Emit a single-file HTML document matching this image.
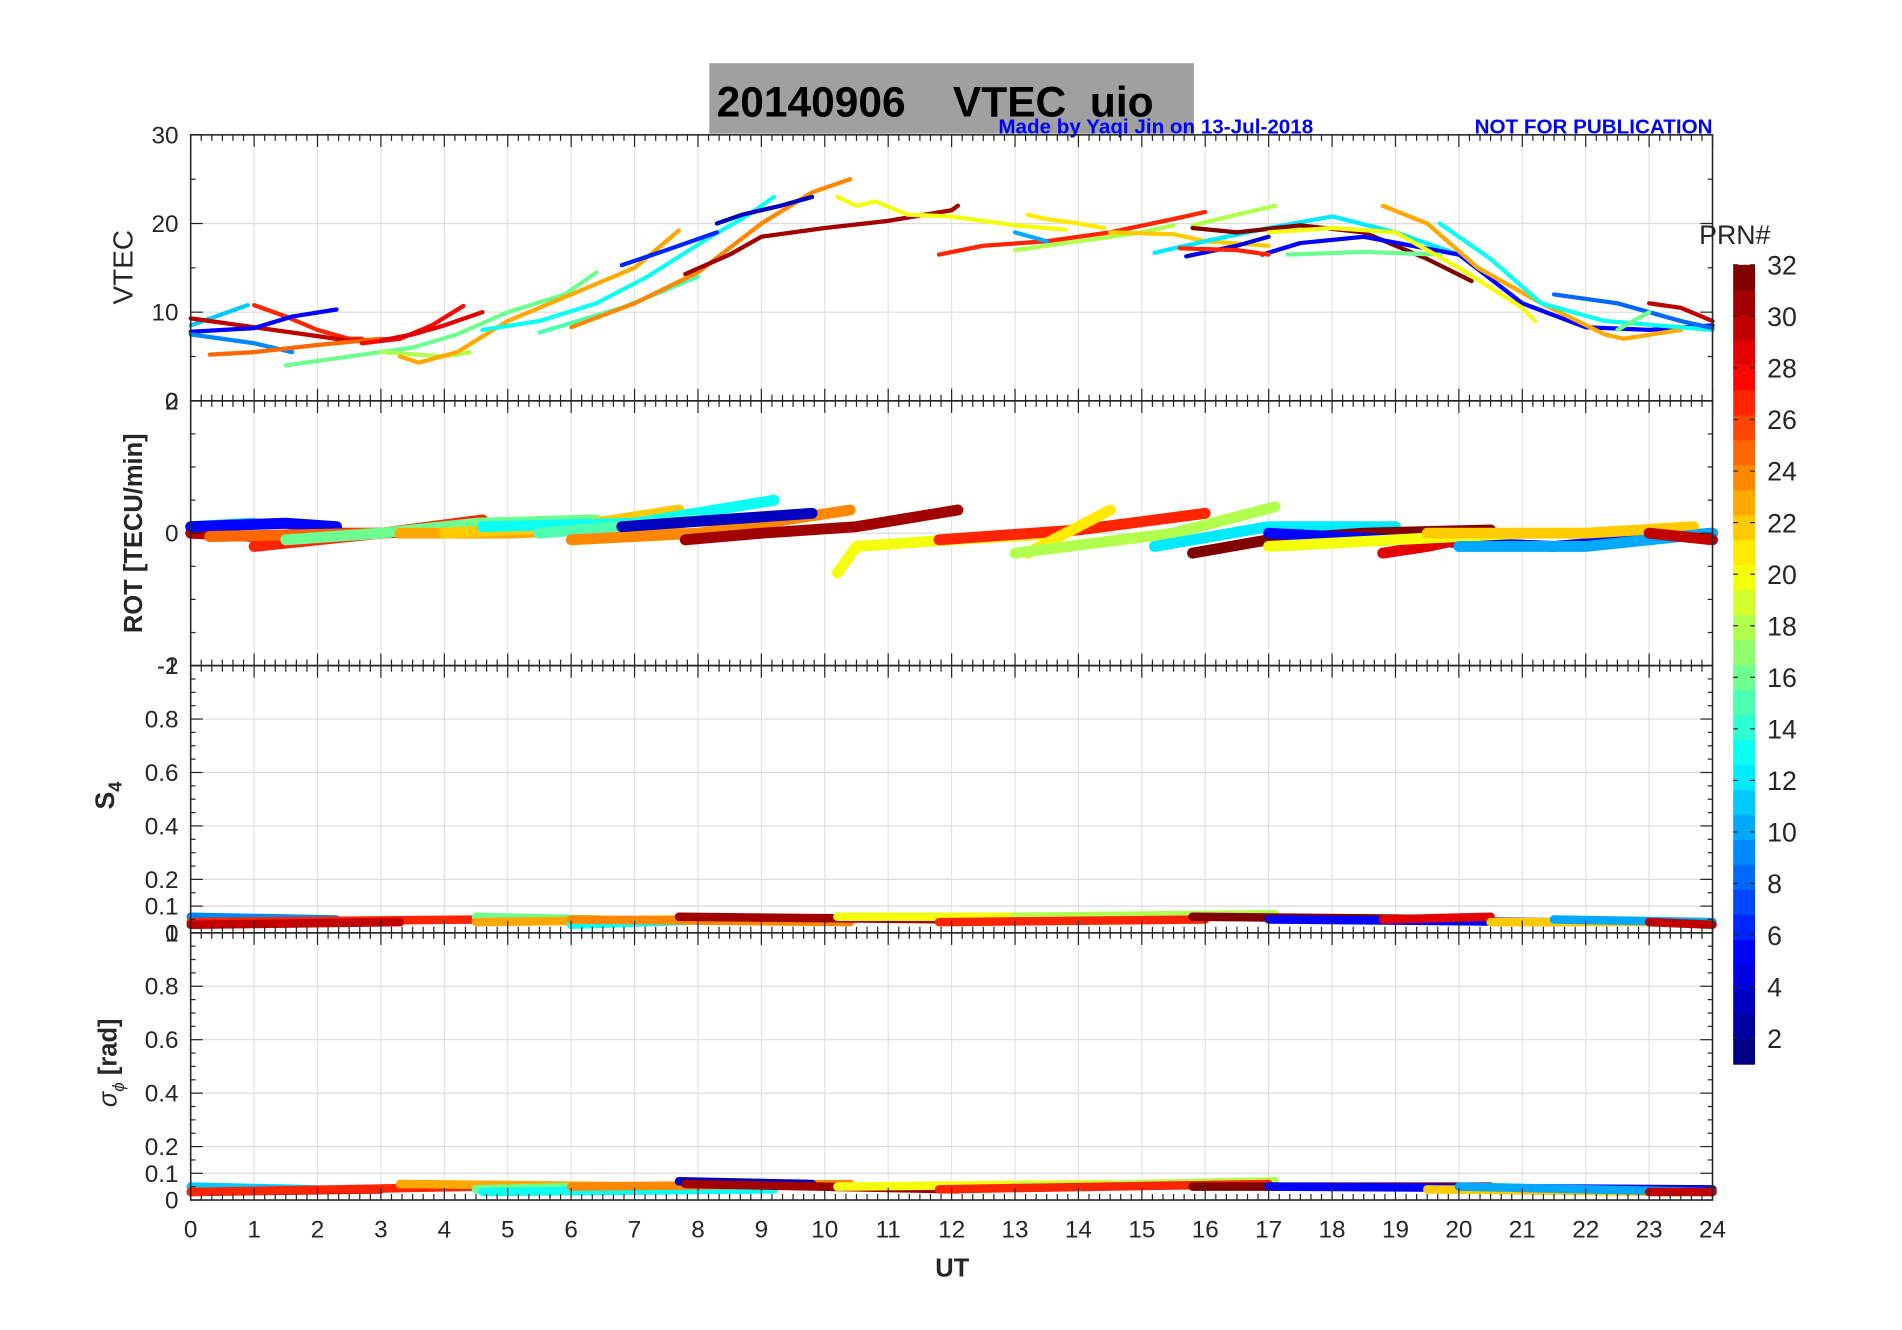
<!DOCTYPE html>
<html><head><meta charset="utf-8">
<style>
html,body{margin:0;padding:0;background:#fff;}
svg{display:block;}
text{font-family:"Liberation Sans",sans-serif;}
</style></head>
<body>
<svg id="fig" width="1902" height="1330" viewBox="0 0 1566 1095" xmlns="http://www.w3.org/2000/svg">
<rect width="1566" height="1095" fill="#fff"/>
<rect x="584" y="52" width="399" height="58" fill="#a0a0a0"/>
<text x="590" y="96" font-size="35" font-weight="bold" fill="#000" xml:space="preserve">20140906    VTEC  uio</text>
<text x="822" y="110" font-size="17" font-weight="bold" fill="#0000ff">Made by Yaqi Jin on 13-Jul-2018</text>
<text x="1410" y="110" font-size="17" font-weight="bold" fill="#0000ff" text-anchor="end">NOT FOR PUBLICATION</text>
<g id="grids"></g>
<g id="series"></g>
<g id="axes"></g>
<g id="cbar"></g>
</svg>
<script>
// ---------- data ----------
const hourTicks = [0,1,2,3,4,5,6,7,8,9,10,11,12,13,14,15,16,17,18,19,20,21,22,23,24];
const cbarTicks = [2,4,6,8,10,12,14,16,18,20,22,24,26,28,30,32];
const vtecTicks = [0,10,20,30];
const rotTicks = [-2,0,2];
const s4Ticks = [0,0.1,0.2,0.4,0.6,0.8,1];

const vtecPrn = [11,27,30,5,9,25,16,28,29,18,23,13,15,24,6,3,31,20,27,21,10,18,18,22,12,32,4,5,16,27,20,23,13,8,30,16];
const vtecT = [
 [0,0.9],[1.0,1.5,2.0,2.5,2.7],[0,1,2,2.5,3.3],[0,1,1.6,2.3],[0,1,1.6],[0.3,1,2,3],
 [1.5,2.5,3.5,4.2,5,5.9,6.4],[2.7,3.3,3.8,4.3],[3.0,3.5,4.0,4.6],[3.0,4.0,4.4],
 [3.3,3.6,4.2,5,6,7,7.7],[4.6,5.5,6.4,7.2,8.2,8.8,9.2],[5.5,6.8,8],[6,7,8,9,9.8,10.4],
 [6.8,7.5,8.3],[8.3,8.7,9.3,9.8],[7.8,8.5,9,10,11,12,12.1],[10.2,10.5,10.8,11.3,12,13,13.8],
 [11.8,12.5,13.5,14.5,15.5,16],[13.2,13.5,14,14.4],[13,13.5],[13,14,15,15.5],[15.8,16.5,17.1],
 [14.5,15.5,16,17],[15.2,16,17,18,19,20],[15.8,16.5,17.5,18.5,19.5,20.2],[15.7,16.5,17],
 [16.9,17.5,18.5,20,21,22,23,24],[17.3,18.5,19.7],[15.6,16.5,17],[17,18,19,20,21,21.2],
 [18.8,19.5,20.3,21.3,22.3,22.6,23.5],[19.7,20.5,21.3,22.3,24],[21.5,22.5,23.5,24],[23,23.5,24],[22.5,23]
];
const vtecV = [
 [8.5,10.8],[10.8,9.5,8,7,7],[9.3,8.3,7.3,6.8,7],[7.8,8.2,9.5,10.3],[7.5,6.5,5.5],[5.2,5.5,6.3,7],
 [4,5,6,7.5,10,12,14.5],[6.5,7,8.5,10.7],[6.8,7.5,8.5,10],[5.5,5,5.5],
 [5,4.3,5.5,9,12,15,19.2],[8,9,11,14,18.5,21,23],[7.7,10.5,14],[8.3,11,14.5,20,23.5,25],
 [15.3,17,19],[20,21,22,23],[14.3,16.5,18.5,19.5,20.3,21.5,22],[23,22,22.5,21,20.8,19.8,19.3],
 [16.5,17.5,18,19,20.5,21.3],[21,20.5,20,19.5],[19,18],[17,18,19,19.8],[19.8,21,22],
 [19,18.8,18,17.5],[16.7,18,19.5,20.8,19,16.5],[19.5,19,19.8,19,16,13.5],[16.3,17.5,18.5],
 [16.5,17.8,18.5,16.5,11,8.3,8,8.5],[16.5,16.8,16.5],[17.2,17,16.5],[19,19.5,19,15,10.5,9],
 [22,20,15,11,7.5,7,8],[20,16,11,9,8],[12,11,9,8.2],[11,10.5,9],[8,10]
];

const rotPrn = [11,30,27,5,25,16,23,22,13,15,24,3,31,20,27,21,18,12,32,5,29,20,22,10,30];
const rotT = [
 [0,1],[0,1,2,3,4],[1,2,3,4.6],[0,1.5,2.3],[0.3,3],[1.5,3,4.5,6.4],[3.3,5,7.7],[4,6,7.7],
 [4.6,7,9.2],[5.5,8],[6,8,10.4],[6.8,8.3,9.8],[7.8,9,10.5,12.1],[10.2,10.5,12,13.8],
 [11.8,14,16],[13.2,14.5],[13,15.5,17.1],[15.2,17,19],[15.8,17,18.5,20.5],[17,19,21.5,24],
 [18.8,19.5,20.5],[17,19,21],[19.5,22,23.7],[20,22,24],[23,24]
];
const rotV = [
 [0.1,0.15],[0,-0.05,0,0,0.05],[-0.2,-0.1,0,0.2],[0.1,0.15,0.1],[-0.05,0],[-0.1,0,0.15,0.2],
 [0,0,0.1],[0,0.1,0.35],[0.1,0.15,0.5],[0,0.2],[-0.1,0,0.35],[0.1,0.2,0.3],[-0.1,0,0.1,0.35],
 [-0.6,-0.2,-0.1,0],[-0.1,0.05,0.3],[-0.3,0.35],[-0.3,0,0.4],[-0.2,0.1,0.1],[-0.3,-0.1,0,0.05],
 [0,-0.1,-0.2,0],[-0.3,-0.2,0],[-0.2,-0.1,0],[0,0,0.1],[-0.2,-0.2,0],[0,-0.1]
];

const s4Prn = [9,27,30,16,23,13,24,31,20,18,27,32,5,29,22,10,30];
const s4T = [[0,2.3],[0,4.6],[0,3.3],[4.5,6.4],[4.5,7.7],[6,8.5],[6,10.4],[7.7,12.1],[10.2,14.5],[13,17.1],[11.8,16],[15.8,20.5],[17,21.5],[18.8,20.5],[20.5,23.5],[21.5,24],[23,24]];
const s4V = [[0.06,0.05],[0.04,0.05],[0.03,0.04],[0.06,0.05],[0.04,0.05],[0.03,0.05],[0.05,0.04],[0.06,0.05],[0.06,0.06],[0.06,0.07],[0.04,0.05],[0.06,0.05],[0.05,0.04],[0.05,0.06],[0.04,0.04],[0.05,0.04],[0.04,0.03]];

const sigPrn = [11,30,27,23,16,13,24,3,31,20,18,27,32,5,22,10,30];
const sigT = [[0,2],[0,3],[0,4.6],[3.3,7.7],[4.5,6.4],[4.6,9.2],[6,10.4],[7.7,9.8],[7.8,12.1],[10.2,14.5],[13,17.1],[11.8,17],[15.8,20.5],[17,24],[19.5,23.5],[20,24],[23,24]];
const sigV = [[0.05,0.04],[0.03,0.04],[0.03,0.05],[0.06,0.05],[0.04,0.05],[0.03,0.04],[0.05,0.06],[0.07,0.06],[0.06,0.04],[0.05,0.06],[0.05,0.07],[0.04,0.06],[0.05,0.05],[0.05,0.04],[0.04,0.03],[0.05,0.03],[0.03,0.03]];

// ---------- layout (viewBox units) ----------
const X0=157, X1=1410;
const panels=[
 {name:'vtec', top:111, bot:330, min:0, max:30},
 {name:'rot', top:330, bot:548, min:-2, max:2},
 {name:'s4', top:548, bot:768, min:0, max:1},
 {name:'sigma', top:768, bot:988, min:0, max:1}
];
const NS='http://www.w3.org/2000/svg';
function mk(tag,attrs,parent){const e=document.createElementNS(NS,tag);for(const k in attrs)e.setAttribute(k,attrs[k]);parent.appendChild(e);return e;}
const xs=t=>X0+(t/24)*(X1-X0);
const ys=(p,v)=>p.bot-(v-p.min)/(p.max-p.min)*(p.bot-p.top);
function jet(i){const x=(i-1)/31;const c=v=>Math.round(255*Math.max(0,Math.min(1,v)));
 const r=c(1.5-Math.abs(4*x-3)), g=c(1.5-Math.abs(4*x-2)), b=c(1.5-Math.abs(4*x-1));return `rgb(${r},${g},${b})`;}

const G=document.getElementById('grids'), S=document.getElementById('series'), A=document.getElementById('axes'), C=document.getElementById('cbar');

const yTickSets=[vtecTicks,rotTicks,s4Ticks,s4Ticks];
const yMinor=[5,0.5,0.05,0.05];
panels.forEach((p,pi)=>{
 hourTicks.forEach(h=>{ if(h>0&&h<24){const l=mk('line',{x1:xs(h),x2:xs(h),y1:p.top,y2:p.bot,stroke:'#e3e3e3','stroke-width':1},G);
   
   }});
 yTickSets[pi].forEach(v=>{ if(v>p.min&&v<p.max){const l=mk('line',{x1:X0,x2:X1,y1:ys(p,v),y2:ys(p,v),stroke:'#dcdcdc','stroke-width':1},G);
   
   }});
 const r=mk('rect',{x:X0,y:p.top,width:X1-X0,height:p.bot-p.top,fill:'none',stroke:'#262626','stroke-width':1.3},A);
 
 
 for(let k=0;k<=144;k++){const t=k/6;const major=(k%6===0);const len=major?10:5;const x=xs(t);
  mk('line',{x1:x,x2:x,y1:p.top,y2:p.top+len,stroke:'#262626','stroke-width':1},A);
  mk('line',{x1:x,x2:x,y1:p.bot,y2:p.bot-len,stroke:'#262626','stroke-width':1},A);}
 const n=Math.round((p.max-p.min)/yMinor[pi]);
 for(let k=0;k<=n;k++){const v=p.min+k*yMinor[pi];const y=ys(p,v);
  const major=yTickSets[pi].some(tv=>Math.abs(tv-v)<1e-9);const len=major?10:4;
  mk('line',{x1:X0,x2:X0+len,y1:y,y2:y,stroke:'#262626','stroke-width':1},A);
  mk('line',{x1:X1,x2:X1-len,y1:y,y2:y,stroke:'#262626','stroke-width':1},A);}
 yTickSets[pi].forEach(v=>{const t=mk('text',{x:147,y:ys(p,v)+7,'font-size':20,fill:'#262626','text-anchor':'end'},A);
  t.textContent=String(v);
  
  });
});

function drawSet(prns,T,V,p,w){
 prns.forEach((prn,i)=>{const pts=T[i].map((t,j)=>xs(t).toFixed(1)+','+ys(p,V[i][j]).toFixed(1)).join(' ');
  const l=mk('polyline',{points:pts,fill:'none',stroke:jet(prn),'stroke-width':w,'stroke-linejoin':'round','stroke-linecap':'round'},S);
  
  });
}
drawSet(vtecPrn,vtecT,vtecV,panels[0],3.5);
drawSet(rotPrn,rotT,rotV,panels[1],9);
drawSet(s4Prn,s4T,s4V,panels[2],7);
drawSet(sigPrn,sigT,sigV,panels[3],7);

hourTicks.forEach(h=>{const t=mk('text',{x:xs(h),y:1019,'font-size':20,fill:'#262626','text-anchor':'middle'},A);
 t.textContent=String(h);
 
 });
const ut=mk('text',{x:784,y:1051,'font-size':21,'font-weight':'bold',fill:'#262626','text-anchor':'middle'},A);
ut.textContent='UT';



function ylab(txt,x,y,bold,fs,name){const t=mk('text',{x:x,y:y,'font-size':fs,'font-weight':bold?'bold':'normal',fill:'#262626','text-anchor':'middle',transform:`rotate(-90 ${x} ${y})`},A);
 t.textContent=txt;return t;}
ylab('VTEC',109,220,false,23,'vtec-y-axis-title');
ylab('ROT [TECU/min]',117,439,true,21,'rot-y-axis-title');
const s4l=mk('text',{x:94,y:655,'font-size':22,'font-weight':'bold',fill:'#262626','text-anchor':'middle',transform:'rotate(-90 94 655)'},A);


s4l.innerHTML='S<tspan font-size="15" dy="6">4</tspan>';
const sgl=mk('text',{x:96,y:875,'font-size':21,'font-weight':'bold',fill:'#262626','text-anchor':'middle',transform:'rotate(-90 96 875)'},A);


sgl.innerHTML='<tspan font-style="italic" font-weight="normal">σ</tspan><tspan font-size="14" dy="6" font-style="italic" font-weight="normal">ϕ</tspan><tspan dy="-6"> [rad]</tspan>';

const CB={x:1427,w:18,top:218,bot:876,min:1,max:32};
const cy=v=>CB.bot-(v-CB.min)/(CB.max-CB.min)*(CB.bot-CB.top);
for(let i=1;i<=32;i++){const y0=CB.bot-(i-1)/32*(CB.bot-CB.top), y1=CB.bot-i/32*(CB.bot-CB.top);
 const r=mk('rect',{x:CB.x,y:y1,width:CB.w,height:y0-y1+0.6,fill:jet(i)},C);
 
 }
cbarTicks.forEach(v=>{const y=cy(v);mk('line',{x1:CB.x,x2:CB.x+4,y1:y,y2:y,stroke:'#262626'},C);mk('line',{x1:CB.x+CB.w,x2:CB.x+CB.w-4,y1:y,y2:y,stroke:'#262626'},C);
 const t=mk('text',{x:1455,y:y+8,'font-size':22,fill:'#262626'},C);
 t.textContent=String(v);
 
 });
const pr=mk('text',{x:1399,y:201,'font-size':22,fill:'#262626'},C);
pr.textContent='PRN#';


</script>
</body></html>
